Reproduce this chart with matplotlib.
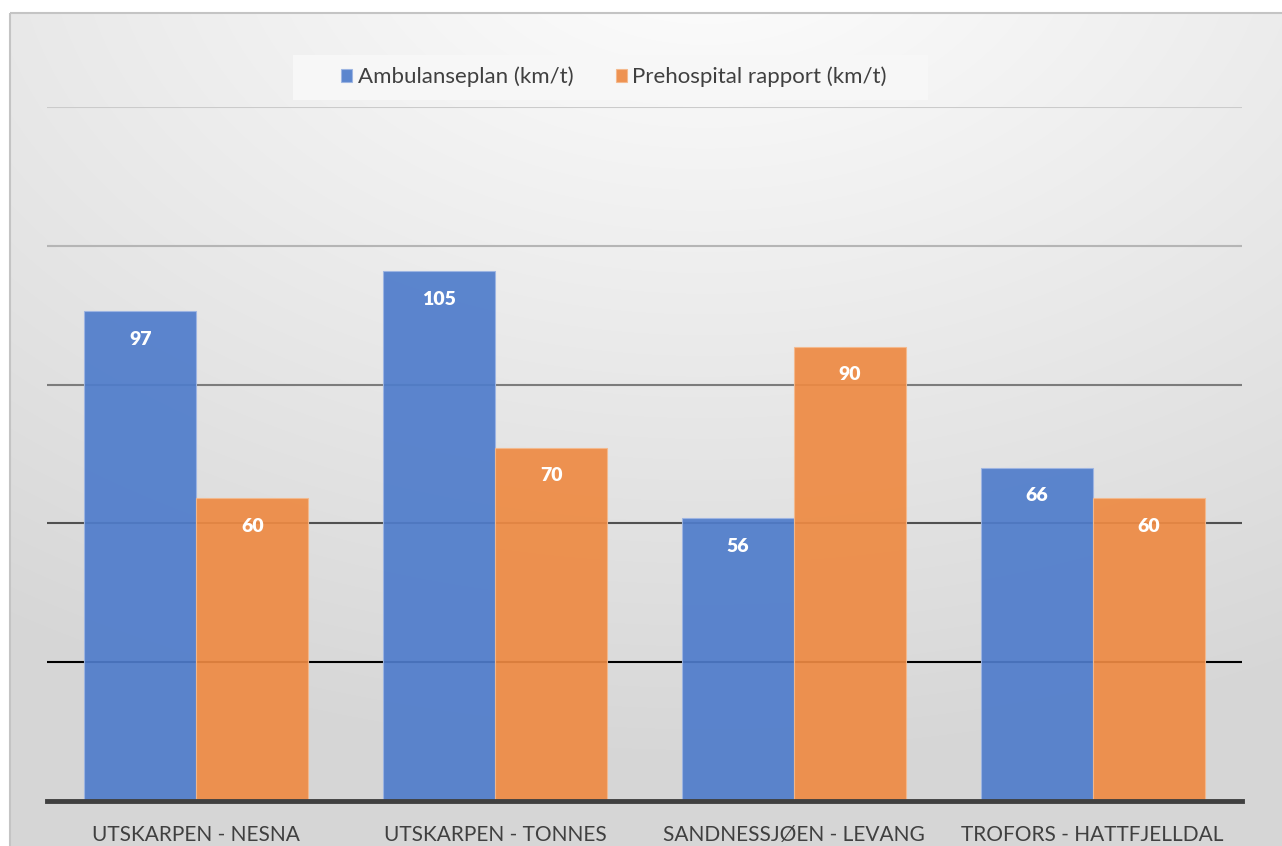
import matplotlib
matplotlib.use("Agg")
import matplotlib.pyplot as plt
import numpy as np
from matplotlib.patches import Rectangle

plt.rcParams['font.family'] = ['Lato', 'DejaVu Sans']

categories = ["UTSKARPEN - NESNA", "UTSKARPEN - TONNES", "SANDNESSJØEN - LEVANG", "TROFORS - HATTFJELLDAL"]
ambulanseplan = [97, 105, 56, 66]
prehospital = [60, 70, 90, 60]
series_names = ["Ambulanseplan (km/t)", "Prehospital rapport (km/t)"]
grid_values = [27.5, 55, 82.5, 110, 137.5]

blue = "#4f7ccb"
orange = "#ee8a43"

W, H = 1282, 846
fig = plt.figure(figsize=(W / 100, H / 100), dpi=100)

# background gradient
bg = fig.add_axes([0, 0, 1, 1])
yy, xx = np.mgrid[0:H, 0:W]
cx, cy = W * 0.55, -80
d = np.sqrt(((xx - cx) / W) ** 2 + ((yy - cy) / H) ** 2)
val = 1.0 - 0.16 * np.clip(d / 1.0, 0, 1)
img = np.dstack([val, val, val])
img[:13, :, :] = 1.0
img[:, :9, :] = 1.0
bg.imshow(img, extent=[0, W, H, 0], aspect='auto', interpolation='bilinear')
bg.set_xlim(0, W)
bg.set_ylim(H, 0)
bg.axis('off')
bg.add_patch(Rectangle((9.5, 13.5), W, H, fill=False, edgecolor="#c4c4c4", lw=1.5))
# legend box
bg.add_patch(Rectangle((293, 55), 635, 45, facecolor="#f7f7f7", edgecolor="none"))

ax = fig.add_axes([47 / W, 45 / H, 1195 / W, 694 / H])
ax.patch.set_alpha(0)
x = np.arange(len(categories))
bw = 0.375
grid_colors = ["#000000", "#505050", "#7c7c7c", "#b5b5b5", "#cbcbcb"]
for g, c in zip(grid_values, grid_colors):
    ax.axhline(g, color=c, lw=1.5, zorder=1)

b1 = ax.bar(x - bw / 2, ambulanseplan, bw, color=blue, alpha=0.92, edgecolor="#9db5e3", lw=0.8, zorder=2, label=series_names[0])
b2 = ax.bar(x + bw / 2, prehospital, bw, color=orange, alpha=0.92, edgecolor="#f5b98c", lw=0.8, zorder=2, label=series_names[1])

for bars, vals in ((b1, ambulanseplan), (b2, prehospital)):
    for r, v in zip(bars, vals):
        ax.annotate(str(v), (r.get_x() + r.get_width() / 2, v), xytext=(0, -28),
                    textcoords='offset pixels', ha='center', va='center',
                    color='white', fontsize=14, fontweight='heavy', zorder=3)

ax.axhline(0, color="#404040", lw=3.5, zorder=4, clip_on=False)
ax.set_xlim(-0.5, 3.5)
ax.set_ylim(0, 137.5)
ax.set_yticks([])
ax.set_xticks(x)
ax.set_xticklabels(categories, fontsize=15, color="#404040")
ax.tick_params(axis='x', length=0, pad=17)
for s in ax.spines.values():
    s.set_visible(False)

leg = fig.legend(handles=[b1, b2], labels=series_names, loc='center', bbox_to_anchor=(614 / W, 1 - 77 / H),
                 ncol=2, frameon=False, fontsize=16, handlelength=0.5, handleheight=0.5,
                 handletextpad=0.25, columnspacing=1.9, labelcolor="#404040")

fig.savefig("out.png", dpi=100)
